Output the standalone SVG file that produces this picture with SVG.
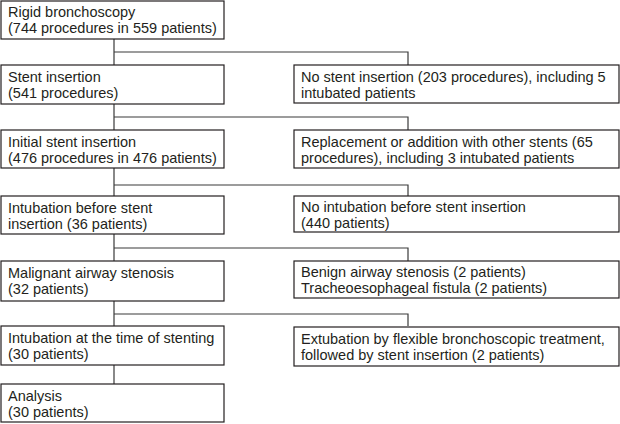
<svg xmlns="http://www.w3.org/2000/svg" width="620" height="424" viewBox="0 0 620 424">
<style>
rect.b{fill:#fff;stroke:#231f20;stroke-width:1.2}
text{font-family:"Liberation Sans",Arial,sans-serif;font-size:14.5px;fill:#231f20}
.c path{fill:none;stroke:#3a3a3a;stroke-width:1.2}
</style>
<rect width="620" height="424" fill="#fff"/>
<g class="c" id="connectors">
<path d="M114 39V65M114 52H408V65"/>
<path d="M114 104V130M114 117H408V130"/>
<path d="M114 168V196M114 185H408V196"/>
<path d="M114 234V261M114 248H408V261"/>
<path d="M114 301V326M114 314H408V326"/>
<path d="M114 365V384"/>
</g>
<g id="n1"><rect class="b" x="1" y="1" width="223" height="38"/><text x="8" y="17">Rigid bronchoscopy</text><text x="8" y="33">(744 procedures in 559 patients)</text></g>
<g id="n2"><rect class="b" x="1" y="65" width="223" height="39"/><text x="8" y="82">Stent insertion</text><text x="8" y="98">(541 procedures)</text></g>
<g id="r2"><rect class="b" x="294" y="65" width="325" height="38"/><text x="301" y="82">No stent insertion (203 procedures), including 5</text><text x="301" y="98">intubated patients</text></g>
<g id="n3"><rect class="b" x="1" y="130" width="223" height="38"/><text x="8" y="147">Initial stent insertion</text><text x="8" y="163">(476 procedures in 476 patients)</text></g>
<g id="r3"><rect class="b" x="294" y="130" width="325" height="38"/><text x="301" y="147">Replacement or addition with other stents (65</text><text x="301" y="163">procedures), including 3 intubated patients</text></g>
<g id="n4"><rect class="b" x="1" y="196" width="223" height="38"/><text x="8" y="213">Intubation before stent</text><text x="8" y="229">insertion (36 patients)</text></g>
<g id="r4"><rect class="b" x="294" y="196" width="325" height="36"/><text x="301" y="212">No intubation before stent insertion</text><text x="301" y="228">(440 patients)</text></g>
<g id="n5"><rect class="b" x="1" y="261" width="223" height="40"/><text x="8" y="278">Malignant airway stenosis</text><text x="8" y="294">(32 patients)</text></g>
<g id="r5"><rect class="b" x="294" y="261" width="325" height="37"/><text x="301" y="277">Benign airway stenosis (2 patients)</text><text x="301" y="293">Tracheoesophageal fistula (2 patients)</text></g>
<g id="n6"><rect class="b" x="1" y="326" width="223" height="39"/><text x="8" y="343">Intubation at the time of stenting</text><text x="8" y="359">(30 patients)</text></g>
<g id="r6"><rect class="b" x="294" y="327" width="325" height="39"/><text x="301" y="344">Extubation by flexible bronchoscopic treatment,</text><text x="301" y="360">followed by stent insertion (2 patients)</text></g>
<g id="n7"><rect class="b" x="1" y="384" width="223" height="38"/><text x="8" y="401">Analysis</text><text x="8" y="417">(30 patients)</text></g>
</svg>
